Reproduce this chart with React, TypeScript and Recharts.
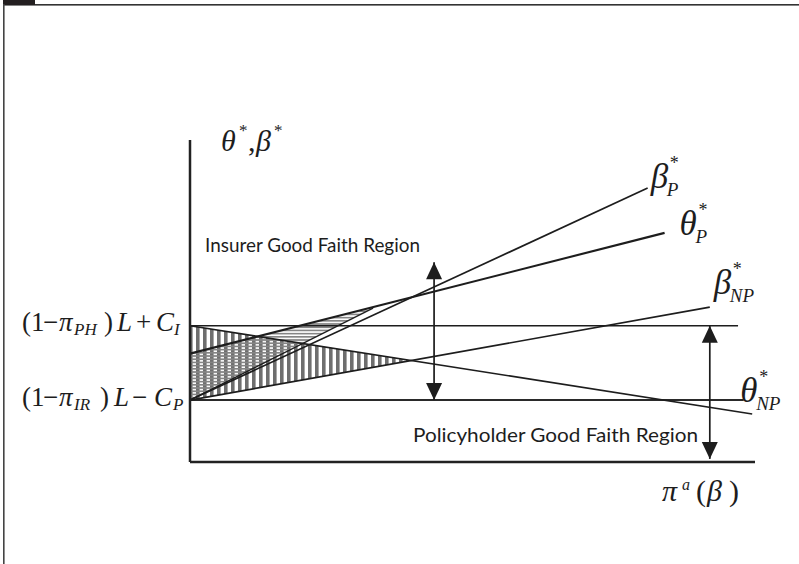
import { ComposedChart, Line, Area, XAxis, YAxis } from "recharts";

// x runs 0..10 along pi^a(beta), y runs 0..10.4 along theta*/beta*
const levelLow = 2.0; // (1-pi_IR)L - C_P
const levelHigh = 4.4; // (1-pi_PH)L + C_I
const levelTicks = [levelLow, levelHigh];
const levelSubs = [
  { pi: "IR", op: "−", c: "P" },
  { pi: "PH", op: "+", c: "I" },
];

const betaP = [{ x: 0, y: 2.0 }, { x: 8.1, y: 8.85 }];
const thetaP = [{ x: 0, y: 3.5 }, { x: 8.4, y: 7.4 }];
const betaNP = [{ x: 0, y: 2.0 }, { x: 9.2, y: 5.0 }];
const thetaNP = [{ x: 0, y: 4.4 }, { x: 9.95, y: 1.55 }];
const innerEdge = [{ x: 0, y: 2.0 }, { x: 3.24, y: 4.97 }];
const highLine = [{ x: 0, y: 4.4 }, { x: 9.7, y: 4.4 }];
const lowLine = [{ x: 0, y: 2.0 }, { x: 9.8, y: 2.0 }];
const insurerArrow = [{ x: 4.32, y: 2.0 }, { x: 4.32, y: 6.45 }];
const holderArrow = [{ x: 9.2, y: 0.1 }, { x: 9.2, y: 4.4 }];

// hatched regions as [low, high] bands
const crossBand = [{ x: 0, band: [2.0, 3.5] }, { x: 3.24, band: [4.97, 4.97] }];
const stripeBand = [{ x: 0, band: [2.0, 4.4] }, { x: 3.92, band: [3.28, 3.28] }];

const serif = "'Liberation Serif', 'Times New Roman', serif";
const sans = "Lato, 'Open Sans', sans-serif";
const ink = "#1d1d1d";

const triangle = (cx: number, cy: number, up: boolean) =>
  up
    ? `${cx},${cy} ${cx - 8},${cy + 17} ${cx + 8},${cy + 17}`
    : `${cx},${cy} ${cx - 8},${cy - 17} ${cx + 8},${cy - 17}`;

const arrowDot = (p: any) => (
  <polygon key={`a-${p.index}`} points={triangle(p.cx, p.cy, p.index === 1)} fill={ink} />
);

function StarLabel({ x, y, base, sub }: { x: number; y: number; base: string; sub: string }) {
  return (
    <g fill={ink} fontFamily={serif} fontStyle="italic">
      <text x={x} y={y} fontSize={35}>{base}</text>
      <text x={x + 19} y={y - 19} fontSize={18} fontStyle="normal">*</text>
      <text x={x + 16} y={y + 8} fontSize={19}>{sub}</text>
    </g>
  );
}

const endLabel = (base: string, sub: string, dx: number, dy: number) => (p: any) =>
  p.index === 1 ? (
    <StarLabel key={`l-${base}${sub}`} x={p.cx + dx} y={p.cy + dy} base={base} sub={sub} />
  ) : (
    <g key={`e-${p.index}`} />
  );

function LevelTick(p: any) {
  const i = levelTicks.indexOf(p.payload.value);
  const s = levelSubs[i];
  if (!s) return <g />;
  const b = p.y + (i === 0 ? 6 : 5);
  const pos = i === 0 ? [100, 114, 132, 154, 173] : [104, 117, 136, 156, 174];
  return (
    <text y={b} fontFamily={serif} fontSize={27} fill={ink}>
      <tspan x={22}>(</tspan>
      <tspan x={31}>1</tspan>
      <tspan x={43}>−</tspan>
      <tspan x={59} fontStyle="italic">π</tspan>
      <tspan x={74} y={b + 4} fontSize={17} fontStyle="italic">{s.pi}</tspan>
      <tspan x={pos[0]} y={b}>)</tspan>
      <tspan x={pos[1]} fontStyle="italic">L</tspan>
      <tspan x={pos[2]}>{s.op}</tspan>
      <tspan x={pos[3]} fontStyle="italic">C</tspan>
      <tspan x={pos[4]} y={b + 4} fontSize={17} fontStyle="italic">{s.c}</tspan>
    </text>
  );
}

export default function App() {
  const line = { type: "linear" as const, stroke: ink, strokeWidth: 1.7, isAnimationActive: false };
  return (
    <div style={{ position: "absolute", left: 0, top: 0, background: "#fff" }}>
      <ComposedChart width={799} height={564} margin={{ top: 140, right: 44, bottom: 42, left: 100 }}>
        <defs>
          <pattern id="vStripe" patternUnits="userSpaceOnUse" width="7" height="7">
            <rect x="0" y="0" width="3.6" height="7" fill="#6e6e6e" />
          </pattern>
          <pattern id="hStripe" patternUnits="userSpaceOnUse" width="6" height="3.2">
            <rect x="0" y="0" width="6" height="1.7" fill="#858585" />
          </pattern>
        </defs>

        {/* page frame */}
        <rect x={3} y={4} width={796} height={1.6} fill="#333" />
        <rect x={3} y={0} width={32} height={5} fill="#231f20" />
        <rect x={3} y={4} width={1.6} height={560} fill="#444" />

        <XAxis
          type="number"
          dataKey="x"
          domain={[0, 10]}
          tick={false}
          tickLine={false}
          height={60}
          axisLine={{ stroke: "#222", strokeWidth: 2.5 }}
        />
        <YAxis
          type="number"
          domain={[0, 10.4]}
          ticks={levelTicks}
          interval={0}
          tickLine={false}
          tick={(p: any) => <LevelTick {...p} />}
          width={90}
          axisLine={{ stroke: "#222", strokeWidth: 2.5 }}
        />

        <Area data={stripeBand} dataKey="band" type="linear" stroke="none" fill="url(#vStripe)" fillOpacity={1} isAnimationActive={false} />
        <Area data={crossBand} dataKey="band" type="linear" stroke="none" fill="url(#hStripe)" fillOpacity={1} isAnimationActive={false} />

        <Line data={highLine} dataKey="y" {...line} dot={false} />
        <Line data={lowLine} dataKey="y" {...line} strokeWidth={2} stroke="#2a2a2a" dot={false} />
        <Line data={innerEdge} dataKey="y" {...line} strokeWidth={1.4} dot={false} />
        <Line data={betaP} dataKey="y" {...line} dot={endLabel("β", "P", 3, 0)} />
        <Line data={thetaP} dataKey="y" {...line} strokeWidth={2.1} dot={endLabel("θ", "P", 15, 2)} />
        <Line data={betaNP} dataKey="y" {...line} dot={endLabel("β", "NP", 4, -13)} />
        <Line data={thetaNP} dataKey="y" {...line} dot={endLabel("θ", "NP", -12, -12)} />
        <Line data={insurerArrow} dataKey="y" {...line} dot={arrowDot} />
        <Line data={holderArrow} dataKey="y" {...line} dot={arrowDot} />

        <text x={205} y={252} fontFamily={sans} fontSize={19} fill={ink} textLength={215} lengthAdjust="spacingAndGlyphs">
          Insurer Good Faith Region
        </text>
        <text x={413} y={442} fontFamily={sans} fontSize={19} fill={ink} textLength={285} lengthAdjust="spacingAndGlyphs">
          Policyholder Good Faith Region
        </text>

        <text y={151} fontFamily={serif} fontSize={30} fill={ink}>
          <tspan x={221} fontStyle="italic">θ</tspan>
          <tspan x={239} y={136} fontSize={17}>*</tspan>
          <tspan x={248} y={151}>,</tspan>
          <tspan x={256} fontStyle="italic">β</tspan>
          <tspan x={274} y={136} fontSize={17}>*</tspan>
        </text>
        <text y={501} fontFamily={serif} fontSize={30} fill={ink}>
          <tspan x={662} fontStyle="italic">π</tspan>
          <tspan x={682} y={490} fontSize={16} fontStyle="italic">a</tspan>
          <tspan x={696} y={501}>(</tspan>
          <tspan x={707} fontStyle="italic">β</tspan>
          <tspan x={729}>)</tspan>
        </text>
      </ComposedChart>
    </div>
  );
}
